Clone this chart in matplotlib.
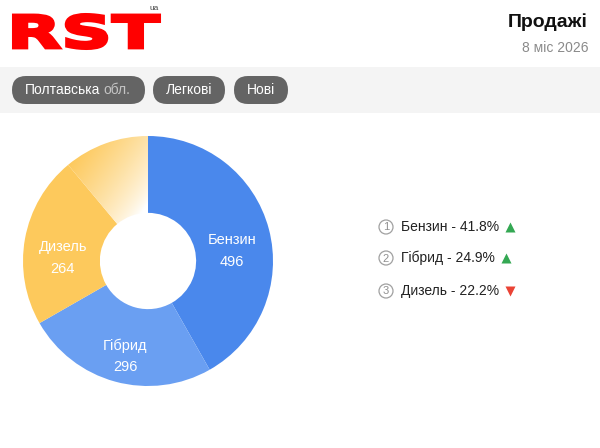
import numpy as np
import matplotlib
matplotlib.use("Agg")
import matplotlib.pyplot as plt
from matplotlib.patches import FancyBboxPatch, Rectangle, Circle, PathPatch
from matplotlib.textpath import TextPath
from matplotlib.font_manager import FontProperties
from matplotlib.transforms import Affine2D
from matplotlib.colors import to_rgb

plt.rcParams['font.family'] = ['Liberation Sans', 'DejaVu Sans']

# ---- data ----
categories = ["Бензин", "Гібрид", "Дизель", "Інші"]
values = [496, 296, 264, 131]
colors = ["#4a88ec", "#6a9ff2", "#fdc95c", None]
trends = ["up", "up", "down"]
filters = ["Полтавська", "Легкові", "Нові"]
filter_suffix = ["обл.", "", ""]
title = "Продажі"
subtitle = "8 міс 2026"

W, H = 600, 448
fig = plt.figure(figsize=(W / 100, H / 100), dpi=100)
fig.patch.set_facecolor("white")

# overlay axes in pixel coordinates
ax0 = fig.add_axes([0, 0, 1, 1])
ax0.set_xlim(0, W)
ax0.set_ylim(H, 0)
ax0.axis("off")

# ---- logo ----
fp_bold = FontProperties(family="DejaVu Sans", weight="bold")
tp = TextPath((0, 0), "RST", size=1, prop=fp_bold)
bb = tp.get_extents()
x0, x1, ytop, ybot = 13.5, 159.5, 14.5, 48.5
tr = (Affine2D().translate(-bb.x0, -bb.y0)
      .scale((x1 - x0) / bb.width, -(ybot - ytop) / bb.height)
      .translate(x0, ybot))
ax0.add_patch(PathPatch(tr.transform_path(tp), facecolor="#ff0000",
                        edgecolor="#ff0000", lw=2.2, joinstyle="miter"))
ax0.text(154, 8.5, "ua", fontsize=6, color="#444444", ha="center", va="center")

# ---- title ----
ax0.text(588, 22, title, fontsize=14, fontweight="bold", color="#111111",
         ha="right", va="center")
ax0.text(588, 48, subtitle, fontsize=10, color="#8a8a8a", ha="right", va="center")

# ---- filter band ----
ax0.add_patch(Rectangle((0, 67), W, 46, facecolor="#f4f4f4", edgecolor="none"))
pill_x = [(12, 145), (153, 225), (234, 288)]
for (a, b), name, suf in zip(pill_x, filters, filter_suffix):
    ax0.add_patch(FancyBboxPatch((a, 76), b - a, 28,
                                 boxstyle="round,pad=0,rounding_size=14",
                                 facecolor="#646464", edgecolor="none"))
    if suf:
        t = ax0.text(a + 13, 90.5, name, fontsize=10, color="white",
                     ha="left", va="center")
        fig.canvas.draw()
        ext = t.get_window_extent()
        xe = ax0.transData.inverted().transform((ext.x1, ext.y0))[0]
        ax0.text(xe + 3, 90.5, suf, fontsize=10, color="#c4c4c4",
                 ha="left", va="center")
    else:
        ax0.text((a + b) / 2, 90.5, name, fontsize=10, color="white",
                 ha="center", va="center")

# ---- donut ----
cx, cy, R = 148, 261, 125
axp = fig.add_axes([(cx - R) / W, (H - cy - R) / H, 2 * R / W, 2 * R / H])
inner = 0.385
face = [c if c else (1, 1, 1, 0) for c in colors]
wedges, _ = axp.pie(values, colors=face, startangle=90, counterclock=False,
                    radius=1, wedgeprops=dict(width=1 - inner, linewidth=0))
axp.set_xlim(-1, 1)
axp.set_ylim(-1, 1)
axp.axis("off")

# gradient for last slice
n = 400
xs = np.linspace(-1, 1, n)
X, Y = np.meshgrid(xs, xs)
wx, wy = -0.144, 0.264
ang = np.deg2rad(145)
proj = (X - wx) * np.cos(ang) + (Y - wy) * np.sin(ang)
t = np.clip(proj / 0.7, 0, 1) ** 0.75
yel = np.array(to_rgb("#fdc95c"))
img = 1 - (1 - yel)[None, None, :] * t[:, :, None]
im = axp.imshow(img, extent=[-1, 1, -1, 1], origin="lower", zorder=1,
                interpolation="bilinear")
im.set_clip_path(wedges[3])

# labels inside slices
for w, cat, v in zip(wedges[:3], categories[:3], values[:3]):
    mid = np.deg2rad((w.theta1 + w.theta2) / 2)
    r = (1 + inner) / 2
    pt = (r * np.cos(mid), r * np.sin(mid))
    axp.annotate(cat, pt, xytext=(0, -1), textcoords="offset pixels",
                 ha="center", va="center", color="white", fontsize=10.5, zorder=3)
    axp.annotate(str(v), pt, xytext=(0, -23), textcoords="offset pixels",
                 ha="center", va="center", color="white", fontsize=10.5, zorder=3)

# ---- legend ----
total = sum(values)
rows_y = [227, 258, 291]
fig.canvas.draw()
for i, (cat, v, tr_, y) in enumerate(zip(categories[:3], values[:3], trends, rows_y)):
    ax0.add_patch(Circle((386, y), 7, facecolor="white", edgecolor="#a0a0a0", lw=0.9))
    ax0.text(386, y + 0.5, str(i + 1), fontsize=8, color="#909090",
             ha="center", va="center")
    txt = ax0.text(401, y, f"{cat} - {v / total * 100:.1f}%", fontsize=10,
                   color="#222222", ha="left", va="center")
    ext = txt.get_window_extent(renderer=fig.canvas.get_renderer())
    xe = ax0.transData.inverted().transform((ext.x1, ext.y0))[0]
    if tr_ == "up":
        ax0.plot(xe + 11, y, marker="^", color="#34a853", markersize=7.5, mec="none")
    else:
        ax0.plot(xe + 11, y + 0.5, marker="v", color="#ea4335", markersize=7.5, mec="none")

fig.savefig("out.png", dpi=100, facecolor="white")
